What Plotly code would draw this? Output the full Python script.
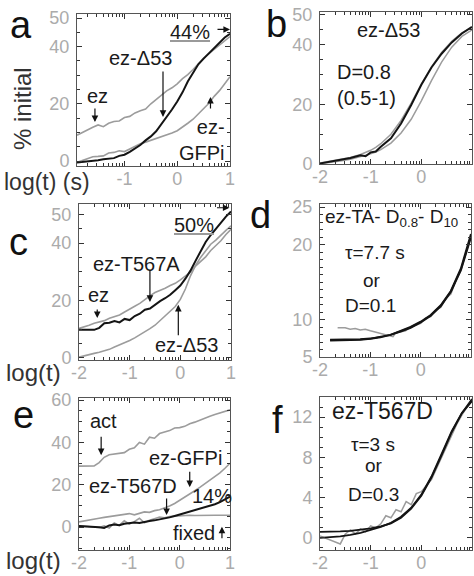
import numpy as np
import plotly.graph_objects as go

GRAY = "#9c9c9c"
BLACK = "#141414"
TICKGRAY = "#ababab"
FONT = "Liberation Sans, Arial, sans-serif"

# ---------------- panel a ----------------
a_x = [-1.9, -1.75, -1.6, -1.5, -1.4, -1.3, -1.2, -1.1, -1.0, -0.9, -0.8, -0.7, -0.6, -0.5, -0.4,
       -0.3, -0.2, -0.1, 0.0, 0.1, 0.2, 0.3, 0.4, 0.5, 0.6, 0.7, 0.8, 0.9, 1.0]
a_ez = [9.0, 10.5, 11.8, 12.6, 12.0, 13.2, 13.8, 14.0, 15.2, 15.6, 16.8, 17.6, 18.2, 20.0, 21.5,
        23.2, 24.5, 25.6, 27.0, 28.8, 30.2, 32.0, 34.2, 36.0, 37.5, 39.0, 40.5, 42.0, 43.5]
a_d53 = [-0.5, -0.3, 0.0, 0.3, 0.6, 0.8, 1.0, 1.8, 2.2, 3.2, 4.4, 5.6, 7.2, 8.6, 10.4,
         12.8, 15.4, 18.0, 20.8, 24.0, 27.8, 31.0, 33.8, 35.8, 37.6, 39.6, 41.5, 43.2, 44.5]
a_gfpi = [-0.5, 0.5, 1.5, 1.6, 1.8, 2.8, 3.0, 3.6, 3.3, 4.2, 5.2, 6.0, 6.6, 7.2, 7.8,
          8.5, 9.2, 9.8, 10.6, 11.8, 13.2, 14.6, 16.4, 18.4, 20.2, 22.6, 24.6, 27.0, 29.5]

# ---------------- panel b ----------------
b_x = [-2.0, -1.8, -1.6, -1.4, -1.2, -1.1, -1.0, -0.9, -0.8, -0.6, -0.4, -0.2, 0.0, 0.2, 0.4, 0.6, 0.8, 1.0]
b_data = [0.2, 0.8, 1.4, 2.0, 2.9, 2.6, 3.9, 4.2, 5.8, 8.6, 13.6, 19.8, 26.6, 32.4, 37.0, 40.8, 43.8, 46.0]
b_fit1 = [0.3, 0.9, 1.5, 2.2, 3.2, 3.8, 4.6, 5.6, 6.8, 10.0, 14.6, 20.4, 26.8, 32.6, 37.4, 41.2, 44.0, 45.8]
b_fit2 = [0.1, 0.5, 1.0, 1.6, 2.4, 2.9, 3.4, 4.0, 4.8, 7.0, 10.4, 15.0, 21.2, 28.0, 34.2, 39.2, 42.8, 45.0]

# ---------------- panel c ----------------
c_x = [-2.0, -1.9, -1.8, -1.7, -1.6, -1.5, -1.4, -1.3, -1.2, -1.1, -1.0, -0.9, -0.8, -0.7, -0.6, -0.5,
       -0.4, -0.3, -0.2, -0.1, 0.0, 0.1, 0.2, 0.3, 0.4, 0.5, 0.6, 0.7, 0.8, 0.9, 1.0]
c_ez = [10.3, 10.8, 11.4, 12.1, 12.6, 13.0, 13.8, 14.5, 15.0, 16.0, 16.9, 18.0, 19.0, 20.4, 21.6, 22.8,
        23.5, 24.3, 25.2, 26.0, 27.2, 28.4, 29.9, 32.0, 33.6, 35.2, 37.4, 39.0, 40.8, 43.0, 44.8]
c_t567a = [9.8, 9.8, 9.8, 9.8, 10.5, 12.1, 12.3, 12.9, 12.4, 13.6, 13.2, 14.6, 15.4, 16.8, 17.2, 18.6,
           19.8, 20.8, 22.0, 23.6, 25.2, 27.6, 30.4, 33.8, 37.2, 40.4, 42.8, 45.0, 47.2, 49.2, 51.0]
c_d53 = [0.3, 0.8, 1.2, 1.6, 2.0, 2.5, 3.0, 3.8, 4.5, 5.2, 6.1, 7.0, 8.0, 9.0, 10.2, 11.4,
         13.0, 14.6, 16.2, 17.9, 20.4, 24.0, 28.6, 32.2, 35.0, 37.4, 39.6, 41.0, 42.8, 44.4, 46.0]

# ---------------- panel d ----------------
d_fit_x = [-1.8, -1.6, -1.4, -1.2, -1.0, -0.8, -0.6, -0.4, -0.2, 0.0, 0.2, 0.4, 0.6, 0.8, 1.0]
d_fit1 = [7.3, 7.3, 7.3, 7.35, 7.45, 7.65, 7.95, 8.4, 8.9, 9.6, 10.5, 11.8, 13.7, 16.6, 21.0]
d_fit2 = [7.2, 7.22, 7.25, 7.3, 7.42, 7.62, 7.95, 8.45, 9.0, 9.7, 10.6, 11.9, 13.8, 16.8, 21.4]
d_data_x = [-1.65, -1.5, -1.4, -1.3, -1.2, -1.1, -1.0, -0.9, -0.8, -0.7, -0.6, -0.55, -0.5, -0.4, -0.3,
            -0.2, -0.1, 0.0, 0.1, 0.2, 0.3, 0.4, 0.5, 0.6, 0.7, 0.8, 0.9, 1.0]
d_data = [8.9, 8.9, 8.7, 8.8, 8.6, 8.7, 8.5, 8.3, 8.2, 8.0, 7.8, 7.7, 8.2, 8.3, 8.5,
          9.0, 9.3, 9.5, 10.2, 10.4, 11.3, 11.6, 12.8, 13.4, 15.2, 16.5, 18.8, 21.2]

# ---------------- panel e ----------------
e_x = c_x
e_act = [28.8, 28.8, 28.8, 28.9, 30.5, 33.0, 34.2, 34.6, 34.8, 35.2, 36.8, 37.5, 40.0, 39.2, 42.5, 42.0,
         44.2, 44.8, 45.6, 46.8, 47.0, 47.6, 48.8, 49.6, 50.6, 51.6, 52.4, 53.2, 54.0, 54.8, 55.4]
e_gfpi = [2.5, 3.0, 3.4, 3.8, 4.2, 4.6, 4.9, 5.2, 5.8, 6.0, 6.4, 5.8, 6.6, 7.2, 7.0, 7.8,
          8.2, 9.0, 10.0, 11.2, 12.6, 14.0, 15.6, 17.2, 18.8, 20.4, 22.0, 23.8, 25.6, 27.8, 30.2]
e_t567d = [0.5, 0.4, 0.3, 0.2, 0.0, -0.4, 0.8, 1.2, 0.9, 1.6, 1.8, 2.2, 2.0, 2.6, 2.9, 3.2,
           3.6, 4.1, 4.6, 5.3, 6.0, 6.6, 7.3, 7.9, 8.6, 9.2, 9.9, 10.8, 11.8, 13.0, 14.4]
e_fixed = [0.6, 0.4, 0.2, 0.0, -0.2, 0.6, -0.4, 2.0, 0.8, 3.0, 1.4, 2.6, 4.2, 2.0, 3.2, 4.0,
           4.8, 4.4, 5.0, 5.2, 5.4, 5.4, 5.6, 5.5, 5.6, 5.6, 5.6, 5.6, 5.6, 5.6, 5.6]

# ---------------- panel f ----------------
f_fit_x = [-2.0, -1.8, -1.6, -1.4, -1.2, -1.0, -0.8, -0.6, -0.4, -0.2, 0.0, 0.2, 0.4, 0.6, 0.8, 1.0]
f_fit1 = [0.6, 0.6, 0.65, 0.7, 0.8, 0.95, 1.15, 1.45, 2.0, 2.9, 4.2, 6.0, 8.2, 10.5, 12.4, 13.8]
f_fit2 = [0.0, 0.05, 0.15, 0.3, 0.5, 0.8, 1.1, 1.5, 2.1, 3.0, 4.3, 6.1, 8.3, 10.6, 12.4, 13.6]
f_data_x = [-2.0, -1.8, -1.6, -1.5, -1.4, -1.3, -1.2, -1.1, -1.0, -0.9, -0.8, -0.7, -0.6, -0.5, -0.4,
            -0.3, -0.2, -0.1, 0.0, 0.1, 0.2, 0.3, 0.4, 0.5, 0.6, 0.7, 0.8, 0.9, 1.0]
f_data = [0.2, -0.2, -0.6, 0.4, 0.8, 0.4, 0.9, 0.6, 1.2, 1.0, 1.4, 2.2, 2.0, 2.8, 2.6,
          3.6, 3.3, 4.4, 4.6, 5.2, 5.8, 6.9, 8.0, 9.1, 10.3, 11.3, 12.2, 13.0, 13.6]

# ---------------- tick labels ----------------
x_ticks_a = [-1, 0, 1]
x_ticks = [-2, -1, 0, 1]
y_ticks_ac = [0, 20, 40, 50]
y_ticks_d = [5, 10, 20, 25]
y_ticks_e = [0, 20, 40, 60]
y_ticks_f = [0, 4, 8, 12]


def lab(v):
    return "-" + str(abs(v)) if v < 0 else str(v)


fig = go.Figure()


def add_line(x, y, color, width, n):
    fig.add_trace(go.Scatter(x=x, y=y, mode="lines", line=dict(color=color, width=width),
                             xaxis="x" + n, yaxis="y" + n, showlegend=False, hoverinfo="skip"))


add_line(a_x, a_ez, GRAY, 1.6, "")
add_line(a_x, a_gfpi, GRAY, 1.6, "")
add_line(a_x, a_d53, BLACK, 2.0, "")

add_line(b_x, b_fit2, GRAY, 1.5, "2")
add_line(b_x, b_fit1, GRAY, 1.5, "2")
add_line(b_x, b_data, BLACK, 2.0, "2")

add_line(c_x, c_ez, GRAY, 1.6, "3")
add_line(c_x, c_d53, GRAY, 1.6, "3")
add_line(c_x, c_t567a, BLACK, 2.0, "3")

add_line(d_data_x, d_data, GRAY, 1.5, "4")
add_line(d_fit_x, d_fit2, BLACK, 2.0, "4")
add_line(d_fit_x, d_fit1, BLACK, 2.0, "4")

add_line(e_x, e_act, GRAY, 1.6, "5")
add_line(e_x, e_gfpi, GRAY, 1.6, "5")
add_line(e_x, e_fixed, GRAY, 1.6, "5")
add_line(e_x, e_t567d, BLACK, 2.0, "5")

add_line(f_data_x, f_data, GRAY, 1.5, "6")
add_line(f_fit_x, f_fit2, BLACK, 1.8, "6")
add_line(f_fit_x, f_fit1, BLACK, 1.8, "6")

W, H = 474, 576
logminor = [n + np.log10(k) for n in (-2, -1, 0) for k in range(2, 10)]


def px_dom(a, b):
    return [a / W, b / W]


def py_dom(top, bottom):
    return [1 - bottom / H, 1 - top / H]


common = dict(ticks="inside", ticklen=5, tickwidth=1, tickcolor="#333", mirror="allticks",
              showline=True, linecolor="#555", linewidth=1, showgrid=False, zeroline=False,
              automargin=False, tickfont=dict(size=18, color=TICKGRAY, family=FONT))


def xax(dom, anchor, rng, vals):
    return dict(domain=dom, anchor=anchor, range=rng, tickmode="array", tickvals=vals,
                ticktext=[lab(v) for v in vals], ticklabelstandoff=-4,
                minor=dict(tickmode="array", tickvals=[v for v in logminor if rng[0] < v < rng[1]],
                           ticks="inside", ticklen=3, tickcolor="#333"),
                **common)


def yax(dom, anchor, rng, vals, mdt):
    return dict(domain=dom, anchor=anchor, range=rng, tickmode="array", tickvals=vals,
                ticktext=[lab(v) for v in vals], ticklabelstandoff=3,
                minor=dict(dtick=mdt, tick0=0, ticks="inside", ticklen=3, tickcolor="#333"),
                **common)


fig.update_layout(
    template="none",
    width=W, height=H, margin=dict(l=0, r=0, t=0, b=0, pad=0, autoexpand=False),
    paper_bgcolor="white", plot_bgcolor="white",
    font=dict(family=FONT, color="#222"),
    xaxis=xax(px_dom(77, 230), "y", [-1.9, 1.0], x_ticks_a),
    yaxis=yax(py_dom(14, 166), "x", [-1.75, 51.4], y_ticks_ac, 5),
    xaxis2=xax(px_dom(320, 472), "y2", [-2.0, 1.0], x_ticks),
    yaxis2=yax(py_dom(12, 164), "x2", [0, 51], y_ticks_ac, 5),
    xaxis3=xax(px_dom(79, 231), "y3", [-2.0, 1.0], x_ticks),
    yaxis3=yax(py_dom(204, 360), "x3", [-0.7, 53.6], y_ticks_ac, 5),
    xaxis4=xax(px_dom(320, 471), "y4", [-2.0, 1.0], x_ticks),
    yaxis4=yax(py_dom(204, 357), "x4", [5, 25.4], y_ticks_d, 1),
    xaxis5=xax(px_dom(79, 230), "y5", [-2.0, 1.0], x_ticks),
    yaxis5=yax(py_dom(398, 550), "x5", [-10.8, 61], y_ticks_e, 5),
    xaxis6=xax(px_dom(320, 472), "y6", [-2.0, 1.0], x_ticks),
    yaxis6=yax(py_dom(397, 550), "x6", [-1.2, 14], y_ticks_f, 1),
)

ann = []


def text(x, y, t, n, size=20, color="#1a1a1a", **kw):
    ann.append(dict(x=x, y=y, xref="x" + n, yref="y" + n, text=t, showarrow=False,
                    font=dict(size=size, color=color, family=FONT), **kw))


def arrow(x, y, ax, ay, n):
    ann.append(dict(x=x, y=y, xref="x" + n, yref="y" + n, text="", showarrow=True,
                    ax=ax, ay=ay, arrowhead=2, arrowsize=1.1, arrowwidth=1.2, arrowcolor="#111"))


def ptext(px, py, t, size, color="#111", angle=0):
    ann.append(dict(x=px / W, y=1 - py / H, xref="paper", yref="paper", text=t, showarrow=False,
                    xanchor="center", yanchor="middle",
                    textangle=angle, font=dict(size=size, color=color, family=FONT)))


UL = ("<span style='color:#9a9a9a;text-decoration:underline'>"
      "<span style='color:#1a1a1a'>%s</span></span>")

# panel a
text(-1.52, 22.7, "ez", "")
arrow(-1.56, 13.6, 0, -15, "")
text(-0.7, 36, "ez-Δ53", "")
arrow(-0.27, 15.4, 0, -47, "")
text(0.94, 7.3, "ez-<br>GFPi", "", align="right", xanchor="right")
arrow(0.63, 22.4, 0, 13, "")
text(0.25, 45.2, UL % "44%", "")
arrow(1.0, 46.0, -14, 0, "")

# panel b
text(-0.64, 45, "ez-Δ53", "2")
text(-1.13, 31, "D=0.8", "2")
text(-1.09, 22.3, "(0.5-1)", "2")

# panel c
text(-1.62, 22, "ez", "3")
arrow(-1.64, 13.9, 0, -10, "3")
text(-0.86, 32.7, "ez-T567A", "3")
arrow(-0.6, 19.5, 0, -33, "3")
text(0.12, 4.5, "ez-Δ53", "3")
arrow(-0.04, 18.5, 0, 32, "3")
text(0.26, 46.3, UL % "50%", "3")
arrow(0.97, 52.3, -14, 0, "3")

# panel d
text(-1.95, 23.6, "ez-TA- D<sub>0.8</sub>- D<sub>10</sub>", "4", size=19, xanchor="left")
text(-0.9, 19.0, "τ=7.7 s", "4", size=19)
text(-0.97, 15.2, "or", "4", size=19)
text(-0.99, 11.9, "D=0.1", "4", size=19)

# panel e
text(-1.52, 50, "act", "5")
arrow(-1.56, 34, 0, -20, "5")
text(0.12, 32.6, "ez-GFPi", "5")
arrow(0.2, 18.9, 0, -17, "5")
text(-0.92, 19.4, "ez-T567D", "5")
arrow(-0.26, 5.7, 0, -18, "5")
text(0.64, 14.8, "14%", "5")
text(0.28, -2.8, "fixed", "5")
arrow(0.84, 0.2, 0, 13, "5")

# panel f
text(-0.76, 12.6, "ez-T567D", "6", size=23)
text(-0.95, 9.3, "τ=3 s", "6", size=19)
text(-0.93, 7.2, "or", "6", size=19)
text(-0.95, 4.3, "D=0.3", "6", size=19)

# panel letters and axis titles
ptext(21, 25, "a", 38)
ptext(276, 24, "b", 38)
ptext(18, 242, "c", 38)
ptext(260, 215, "d", 38)
ptext(23, 415, "e", 38)
ptext(277, 420, "f", 38)
ptext(22, 109, "% initial", 24, color="#333", angle=-90)
ptext(47, 182, "log(t) (s)", 23, color="#333")
ptext(33, 372, "log(t)", 24, color="#333")
ptext(33, 560, "log(t)", 24, color="#333")

fig.update_layout(annotations=ann)
fig.write_html("out.html", config={"displayModeBar": False},
               post_script="document.body.style.margin='0';document.body.style.overflow='hidden';")
